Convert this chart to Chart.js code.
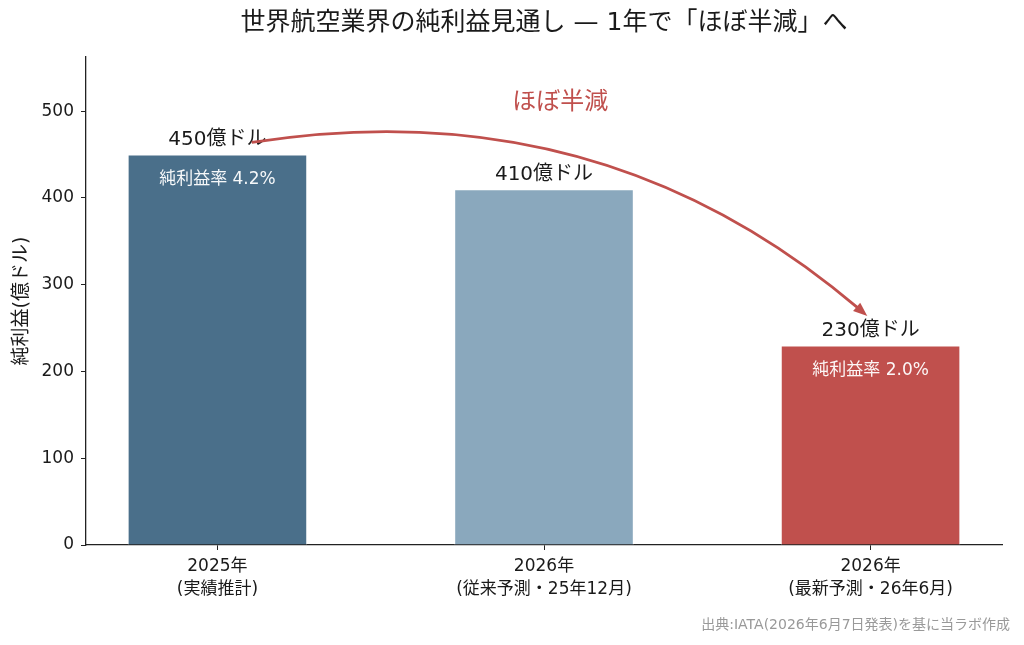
<!DOCTYPE html>
<html>
<head>
<meta charset="utf-8">
<script src="https://cdn.jsdelivr.net/npm/chart.js@4/dist/chart.umd.min.js"></script>
<style>
  html, body { margin: 0; padding: 0; background: #ffffff; }
  #wrap { width: 1024px; height: 645px; position: relative; }
</style>
</head>
<body>
<div id="wrap"><canvas id="c" width="1024" height="645"></canvas></div>
<script>
// ---- data ----
const categories = [["2025年", "(実績推計)"], ["2026年", "(従来予測・25年12月)"], ["2026年", "(最新予測・26年6月)"]];
const netProfit = [450, 410, 230];            // 億ドル
const valueLabels = ["450億ドル", "410億ドル", "230億ドル"];
const marginLabels = ["純利益率 4.2%", null, "純利益率 2.0%"];
const yTicks = [0, 100, 200, 300, 400, 500];
const barColors = ["#4a6f8a", "#8aa8bd", "#c0504d"];
const titleText = "世界航空業界の純利益見通し — 1年で「ほぼ半減」へ";
const yAxisTitle = "純利益(億ドル)";
const calloutText = "ほぼ半減";
const sourceText = "出典:IATA(2026年6月7日発表)を基に当ラボ作成";

const FONT = '"DejaVu Sans", "Noto Sans CJK JP", sans-serif';
const RED = "#c0504d";

const annotations = {
  id: "annotations",
  afterDatasetsDraw(chart) {
    const ctx = chart.ctx;
    const xs = chart.scales.x, ys = chart.scales.y;
    const meta = chart.getDatasetMeta(0);
    ctx.save();
    meta.data.forEach((bar, i) => {
      ctx.font = "20px " + FONT;
      ctx.fillStyle = "#1a1a1a";
      ctx.textAlign = "center";
      ctx.textBaseline = "middle";
      ctx.fillText(valueLabels[i], bar.x, bar.y - 15);
      if (marginLabels[i]) {
        ctx.font = "17px " + FONT;
        ctx.fillStyle = "rgba(255,255,255,0.95)";
        ctx.fillText(marginLabels[i], bar.x, bar.y + 25);
      }
    });
    // curved arrow (arc3-style quadratic curve)
    const S = { x: xs.getPixelForValue(0.105), y: ys.getPixelForValue(464) };
    const E = { x: xs.getPixelForValue(1.99), y: ys.getPixelForValue(264) };
    const rad = -0.23;
    const mx = (S.x + E.x) / 2, my = (S.y + E.y) / 2;
    const dx = E.x - S.x, dy = -(E.y - S.y);
    const C = { x: mx + rad * dy, y: my + rad * dx };
    const hx = E.x - C.x, hy = E.y - C.y;
    const hl = Math.hypot(hx, hy);
    const ux = hx / hl, uy = hy / hl;
    const headLen = 14, headW = 5.5;
    const base = { x: E.x - ux * headLen, y: E.y - uy * headLen };
    ctx.strokeStyle = RED;
    ctx.lineWidth = 2.8;
    ctx.beginPath();
    ctx.moveTo(S.x, S.y);
    ctx.quadraticCurveTo(C.x, C.y, base.x + ux * 2, base.y + uy * 2);
    ctx.stroke();
    ctx.fillStyle = RED;
    ctx.beginPath();
    ctx.moveTo(E.x, E.y);
    ctx.lineTo(base.x - uy * headW, base.y + ux * headW);
    ctx.lineTo(base.x + uy * headW, base.y - ux * headW);
    ctx.closePath();
    ctx.fill();
    // callout text
    ctx.font = "24px " + FONT;
    ctx.fillStyle = RED;
    ctx.textAlign = "center";
    ctx.textBaseline = "middle";
    ctx.fillText(calloutText, xs.getPixelForValue(1.05), ys.getPixelForValue(510));
    ctx.restore();
  },
  afterDraw(chart) {
    const ctx = chart.ctx;
    const ca = chart.chartArea;
    ctx.save();
    ctx.font = "25px " + FONT;
    ctx.fillStyle = "#1a1a1a";
    ctx.textAlign = "center";
    ctx.textBaseline = "middle";
    ctx.fillText(titleText, (ca.left + ca.right) / 2, 23);
    ctx.translate(22, (ca.top + ca.bottom) / 2);
    ctx.rotate(-Math.PI / 2);
    ctx.font = "19px " + FONT;
    ctx.fillText(yAxisTitle, 0, 0);
    ctx.setTransform(1, 0, 0, 1, 0, 0);
    ctx.font = "14px " + FONT;
    ctx.fillStyle = "#999999";
    ctx.textAlign = "right";
    ctx.fillText(sourceText, 1010, 625);
    ctx.restore();
  }
};

new Chart(document.getElementById("c"), {
  type: "bar",
  data: {
    datasets: [{
      data: netProfit.map((v, i) => ({ x: i, y: v })),
      backgroundColor: barColors,
      borderColor: "#ffffff",
      borderWidth: 1,
      barPercentage: 0.55,
      categoryPercentage: 1.0
    }]
  },
  options: {
    responsive: false,
    animation: false,
    devicePixelRatio: 1,
    layout: { padding: { top: 57, right: 22, bottom: 0, left: 0 } },
    plugins: { legend: { display: false }, tooltip: { enabled: false }, title: { display: false } },
    scales: {
      x: {
        type: "linear",
        offset: false,
        min: -0.4025,
        max: 2.4025,
        afterBuildTicks: (s) => { s.ticks = categories.map((_, i) => ({ value: i })); },
        afterFit: (s) => { s.height = 100; },
        ticks: {
          callback: (v) => categories[v],
          color: "#1a1a1a",
          font: { family: FONT, size: 17, lineHeight: 1.3 },
          padding: 6,
          maxRotation: 0,
          autoSkip: false
        },
        grid: { display: true, offset: false, drawOnChartArea: false, drawTicks: true, tickLength: 5, color: "#222222", lineWidth: 1 },
        border: { display: true, color: "#222222", width: 1.3 }
      },
      y: {
        min: 0,
        max: 562.5,
        afterBuildTicks: (s) => { s.ticks = yTicks.map(v => ({ value: v })); },
        afterFit: (s) => { s.width = 86; },
        ticks: {
          color: "#1a1a1a",
          font: { family: FONT, size: 17 },
          padding: 7
        },
        grid: { display: true, drawOnChartArea: false, drawTicks: true, tickLength: 5, color: "#222222", lineWidth: 1 },
        border: { display: true, color: "#222222", width: 1.3 }
      }
    }
  },
  plugins: [annotations]
});
</script>
</body>
</html>
